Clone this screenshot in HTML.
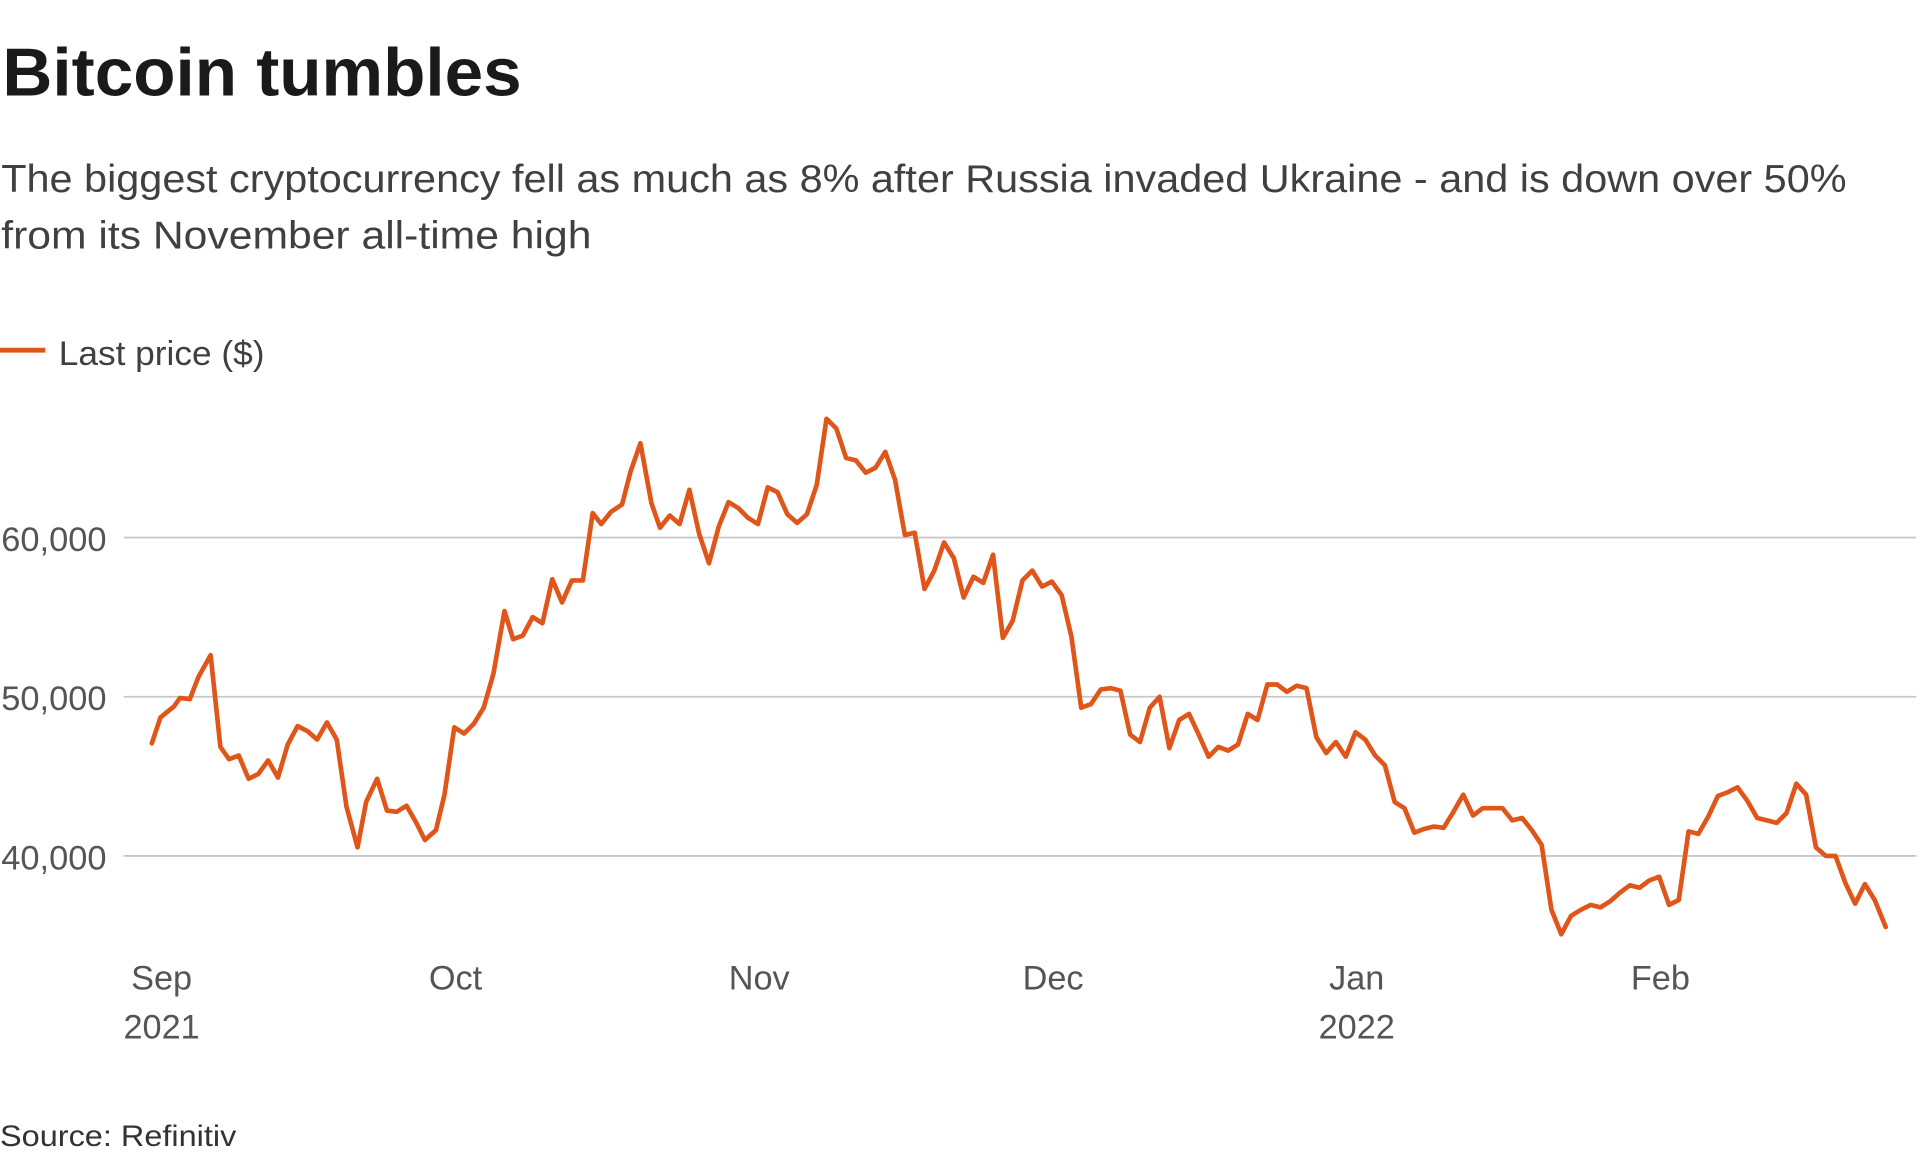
<!DOCTYPE html>
<html><head><meta charset="utf-8"><style>
html,body{margin:0;padding:0;background:#fff;}
svg{display:block;}
text{font-family:"Liberation Sans",sans-serif;}
</style></head><body>
<svg width="1920" height="1164" viewBox="0 0 1568 950.6" preserveAspectRatio="none" xmlns="http://www.w3.org/2000/svg">
<text x="2" y="78" font-size="55" font-weight="bold" fill="#1a1a1a" textLength="424" lengthAdjust="spacingAndGlyphs">Bitcoin tumbles</text>
<text x="1" y="157" font-size="32" fill="#404040" textLength="1507" lengthAdjust="spacingAndGlyphs">The biggest cryptocurrency fell as much as 8% after Russia invaded Ukraine - and is down over 50%</text>
<text x="1" y="203" font-size="32" fill="#404040" textLength="482" lengthAdjust="spacingAndGlyphs">from its November all-time high</text>
<line x1="0" y1="286" x2="37" y2="286" stroke="#e0561a" stroke-width="4"/>
<text x="48" y="298" font-size="28" fill="#404040" textLength="168" lengthAdjust="spacingAndGlyphs">Last price ($)</text>
<g stroke="#c8c8c8" stroke-width="1.5">
<line x1="101" y1="439" x2="1565" y2="439"/>
<line x1="101" y1="569" x2="1565" y2="569"/>
<line x1="101" y1="699" x2="1565" y2="699"/>
</g>
<g font-size="28" fill="#555" text-anchor="end">
<text x="87" y="450" textLength="86" lengthAdjust="spacingAndGlyphs">60,000</text>
<text x="87" y="580" textLength="86" lengthAdjust="spacingAndGlyphs">50,000</text>
<text x="87" y="710" textLength="86" lengthAdjust="spacingAndGlyphs">40,000</text>
</g>
<g font-size="28" fill="#555" text-anchor="middle">
<text x="132" y="808">Sep</text><text x="132" y="848">2021</text>
<text x="372" y="808">Oct</text>
<text x="620" y="808">Nov</text>
<text x="860" y="808">Dec</text>
<text x="1108" y="808">Jan</text><text x="1108" y="848">2022</text>
<text x="1356" y="808">Feb</text>
</g>
<text x="0" y="936" font-size="24" fill="#333" textLength="193" lengthAdjust="spacingAndGlyphs">Source: Refinitiv</text>
<polyline fill="none" stroke="#e0561a" stroke-width="3.8" stroke-linejoin="round" stroke-linecap="round" points="124,607 131,586 137,581 142,577 147,570 155,571 162,553 172,535 180,610 187,620 195,617 203,636 211,632 219,621 227,635 235,608 243,593 251,597 259,604 267,590 275,604 283,659 292,692 299,655 308,636 316,662 324,663 332,658 340,672 347,686 356,678 363,649 371,594 379,599 387,591 395,578 403,550 412,499 419,522 427,519 435,504 443,509 451,473 459,492 467,474 476,474 484,419 491,428 499,418 508,412 515,385 523,362 532,411 539,431 547,421 555,428 563,400 571,436 579,460 587,430 595,410 603,415 611,423 619,428 627,398 635,402 643,420 651,427 659,420 667,396 675,342 683,350 691,374 699,376 707,386 715,382 723,369 731,392 739,437 747,435 755,481 763,466 771,443 779,456 787,488 795,471 803,476 811,453 819,521 827,507 835,474 843,466 851,479 859,475 867,486 875,520 883,578 891,575 899,563 907,562 915,564 923,600 931,606 939,578 947,569 955,611 963,588 971,583 979,600 987,618 995,610 1003,613 1011,608 1019,583 1027,588 1035,559 1043,559 1051,565 1059,560 1067,562 1075,602 1083,615 1091,606 1099,618 1107,598 1115,604 1123,617 1131,625 1139,655 1147,660 1155,680 1163,677 1171,675 1179,676 1187,663 1195,649 1203,666 1211,660 1219,660 1227,660 1235,670 1243,668 1251,678 1259,690 1267,743 1275,763 1283,748 1291,743 1299,739 1307,741 1315,736 1323,729 1331,723 1339,725 1347,719 1355,716 1363,739 1371,735 1379,679 1387,681 1395,667 1403,650 1411,647 1419,643 1427,654 1435,668 1443,670 1451,672 1459,664 1467,640 1475,649 1483,692 1491,699 1499,699 1507,721 1515,738 1523,722 1531,735 1540,757"/>
</svg>
</body></html>
